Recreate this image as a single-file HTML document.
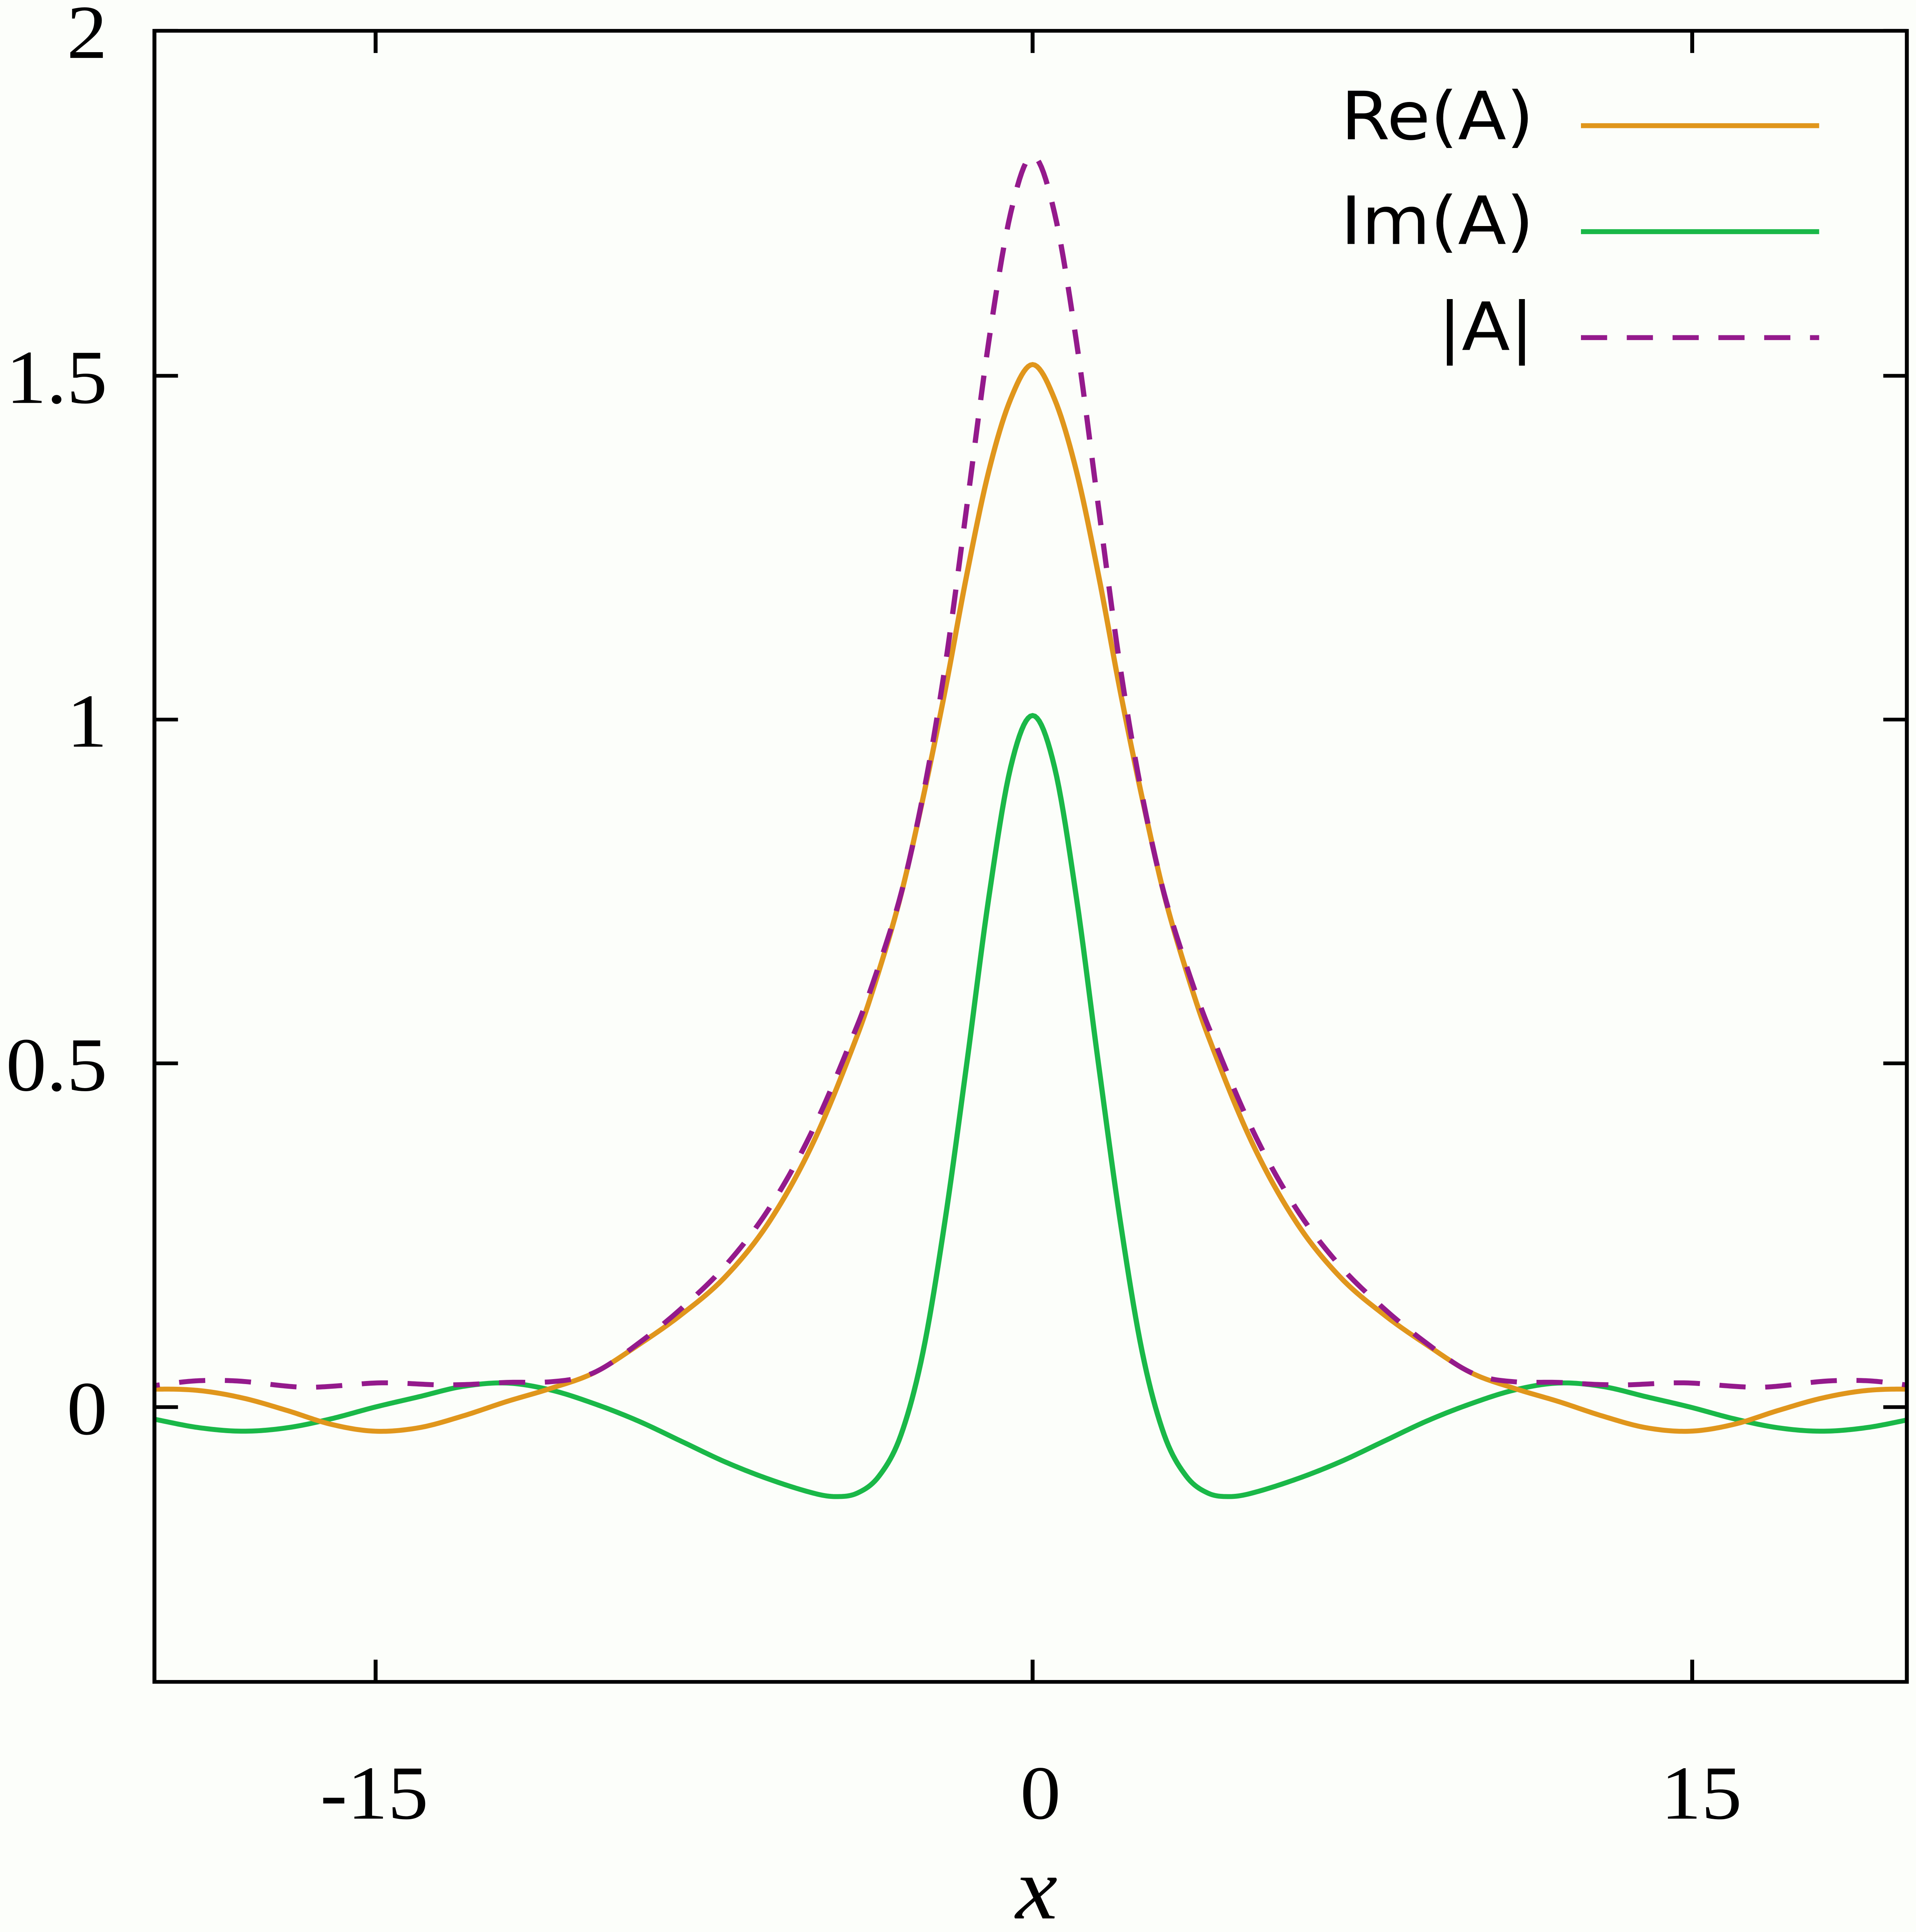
<!DOCTYPE html>
<html><head><meta charset="utf-8">
<style>
html,body{margin:0;padding:0;background:#fcfefa;overflow:hidden;width:100%;height:100%;}
svg{display:block;position:absolute;left:0;top:0;width:100vw;height:100vh;}
.t{font-family:"Liberation Serif",serif;font-size:62px;fill:#000;}
.l{font-family:"DejaVu Sans","Liberation Sans",sans-serif;font-size:54px;fill:#000;}
</style></head><body>
<svg id="s" viewBox="0 0 1464 1568" preserveAspectRatio="none" xmlns="http://www.w3.org/2000/svg">
<rect width="1464" height="1568" fill="#fcfefa"/>
<defs><clipPath id="c"><rect x="118" y="25" width="1339" height="1340"/></clipPath></defs>
<g id="curves" clip-path="url(#c)"></g>
<g stroke="#000" stroke-width="3" fill="none">
<rect x="118" y="25" width="1339" height="1340"/>
<path d="M118 1142h18M1457 1142h-18M118 863h18M1457 863h-18M118 584h18M1457 584h-18M118 305h18M1457 305h-18M118 25h18M1457 25h-18"/>
<path d="M287 1365v-18M287 25v18M789 1365v-18M789 25v18M1293 1365v-18M1293 25v18"/>
</g>
<g class="t" text-anchor="end">
<text x="82" y="1164">0</text>
<text x="82" y="885">0.5</text>
<text x="82" y="606">1</text>
<text x="82" y="327">1.5</text>
<text x="82" y="47">2</text>
</g>
<g class="t" text-anchor="middle">
<text x="286" y="1476">-15</text>
<text x="795" y="1476">0</text>
<text x="1300" y="1476">15</text>
<text x="792" y="1557" font-style="italic" font-size="72">x</text>
</g>
<g class="l" text-anchor="end">
<text x="1172" y="113">Re(A)</text>
<text x="1172" y="198">Im(A)</text>
<text x="1172" y="284">|A|</text>
</g>
<g stroke-width="4" fill="none">
<path d="M1208 102H1390" stroke="#e0961c"/>
<path d="M1208 188H1390" stroke="#1ab848"/>
<path d="M1208 274H1390" stroke="#941a8c" stroke-dasharray="20 15"/>
</g>
</svg>
<script>
var re=[[0,1.515],[0.5,1.465],[1,1.36],[1.5,1.21],[2,1.04],[2.5,0.885],[3,0.745],[3.5,0.635],[4,0.54],[5,0.385],[6,0.27],[7,0.19],[8,0.135],[9,0.09],[10,0.05],[11,0.027],[12,0.008],[13,-0.013],[14,-0.03],[15,-0.035],[16,-0.025],[17,-0.005],[18,0.013],[19,0.024],[20,0.026],[21,0.022]];
var im=[[0,1.005],[0.5,0.93],[1,0.74],[1.5,0.50],[2,0.27],[2.5,0.08],[3,-0.04],[3.5,-0.10],[4,-0.125],[4.5,-0.13],[5,-0.125],[6,-0.105],[7,-0.08],[8,-0.05],[9,-0.02],[10,0.005],[11,0.025],[12,0.035],[13,0.03],[14,0.015],[15,0.0],[16,-0.017],[17,-0.03],[18,-0.035],[19,-0.03],[20,-0.018],[21,-0.005]];
function interp(p,x){x=Math.abs(x);
 for(var i=0;i<p.length-1;i++){if(x<=p[i+1][0])break;}
 if(i>=p.length-1)i=p.length-2;
 var p0=p[Math.max(i-1,0)],p1=p[i],p2=p[i+1],p3=p[Math.min(i+2,p.length-1)];
 var h=p2[0]-p1[0],t=(x-p1[0])/h;
 var m1=i==0?0:(p2[1]-p0[1])/(p2[0]-p0[0])*h;
 var m2=(p3[1]-p1[1])/(p3[0]-p1[0]||1)*h;
 var t2=t*t,t3=t2*t;
 return (2*t3-3*t2+1)*p1[1]+(t3-2*t2+t)*m1+(-2*t3+3*t2)*p2[1]+(t3-t2)*m2;}
function X(x){return 789+x*33.5;}function Y(y){return 1142-y*558.5;}
function path(f){var d="";for(var x=-20.5;x<=20.5;x+=0.05){d+=(d?"L":"M")+X(x).toFixed(2)+" "+Y(f(x)).toFixed(2);}return d;}
var g=document.getElementById("curves"),ns="http://www.w3.org/2000/svg";
function add(d,col,dash){var e=document.createElementNS(ns,"path");e.setAttribute("d",d);e.setAttribute("stroke",col);e.setAttribute("stroke-width","4");e.setAttribute("fill","none");if(dash)e.setAttribute("stroke-dasharray",dash);g.appendChild(e);}
add(path(function(x){return interp(im,x);}),"#1ab848");
add(path(function(x){return interp(re,x);}),"#e0961c");
add(path(function(x){var a=interp(re,x),b=interp(im,x);return Math.sqrt(a*a+b*b);}),"#941a8c","20 15");
</script>
</body></html>
